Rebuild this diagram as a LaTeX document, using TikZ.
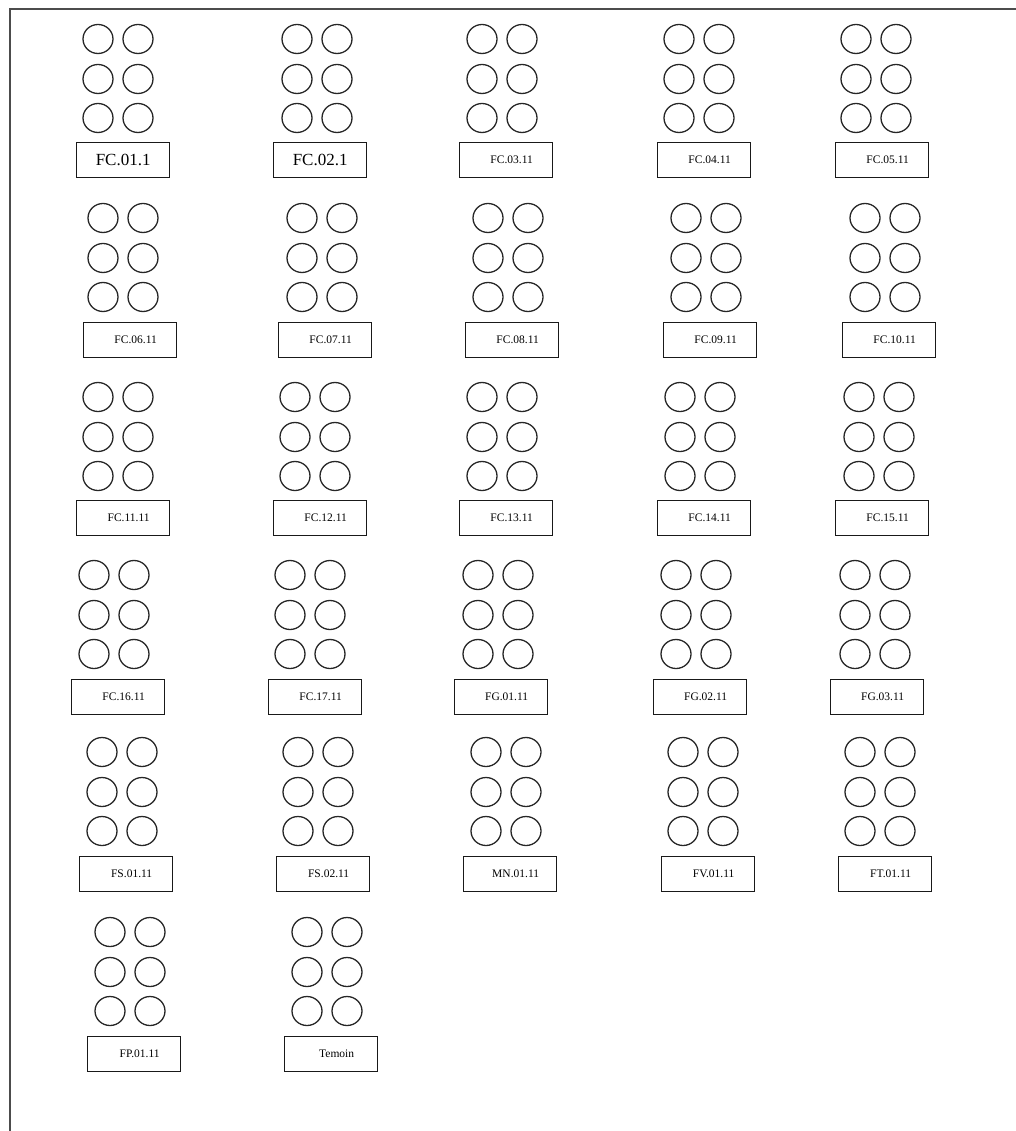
\documentclass[tikz,border=0pt]{standalone}
\usepackage{fontspec}
\setmainfont{Liberation Serif}

\tikzset{
  tray/.style={draw=black!85, line width=1.3pt},
  boxbase/.style={draw=black!90, line width=1.3pt, anchor=north west,
    minimum width=93pt, minimum height=35pt, inner sep=0pt},
  labelbox/.style={boxbase, font=\fontsize{11.5}{13}\selectfont,
    execute at begin node=\hspace*{11pt}},
  labelboxbig/.style={boxbase, font=\fontsize{17}{19}\selectfont},
}

\begin{document}
\begin{tikzpicture}[x=1pt, y=-1pt]
    \useasboundingbox (0,0) rectangle (1016,1131);

    % page frame
    \draw[black!70, line width=1.5pt] (10,1131) -- (10,9) -- (1016,9);

    % racks: box corner / first circle / label / name / style
    \foreach \bx/\by/\cx/\cy/\lab/\nm/\st in {
        76/142/98/39/FC.01.1/fc01/labelboxbig,
        273/142/297/39/FC.02.1/fc02/labelboxbig,
        459/142/482/39/FC.03.11/fc03/labelbox,
        657/142/679/39/FC.04.11/fc04/labelbox,
        835/142/856/39/FC.05.11/fc05/labelbox,
        83/322/103/218/FC.06.11/fc06/labelbox,
        278/322/302/218/FC.07.11/fc07/labelbox,
        465/322/488/218/FC.08.11/fc08/labelbox,
        663/322/686/218/FC.09.11/fc09/labelbox,
        842/322/865/218/FC.10.11/fc10/labelbox,
        76/500/98/397/FC.11.11/fc11/labelbox,
        273/500/295/397/FC.12.11/fc12/labelbox,
        459/500/482/397/FC.13.11/fc13/labelbox,
        657/500/680/397/FC.14.11/fc14/labelbox,
        835/500/859/397/FC.15.11/fc15/labelbox,
        71/679/94/575/FC.16.11/fc16/labelbox,
        268/679/290/575/FC.17.11/fc17/labelbox,
        454/679/478/575/FG.01.11/fg01/labelbox,
        653/679/676/575/FG.02.11/fg02/labelbox,
        830/679/855/575/FG.03.11/fg03/labelbox,
        79/856/102/752/FS.01.11/fs01/labelbox,
        276/856/298/752/FS.02.11/fs02/labelbox,
        463/856/486/752/MN.01.11/mn01/labelbox,
        661/856/683/752/FV.01.11/fv01/labelbox,
        838/856/860/752/FT.01.11/ft01/labelbox,
        87/1036/110/932/FP.01.11/fp01/labelbox,
        284/1036/307/932/Temoin/temoin/labelbox}{
        \foreach \dy in {0,40,79}{
            \draw[tray] (\cx,\cy+\dy) ellipse [x radius=15pt, y radius=14.5pt];
            \draw[tray] (\cx+40,\cy+\dy) ellipse [x radius=15pt, y radius=14.5pt];
        }
        \node[\st] (\nm) at (\bx,\by) {\lab};
    }
\end{tikzpicture}
\end{document}
